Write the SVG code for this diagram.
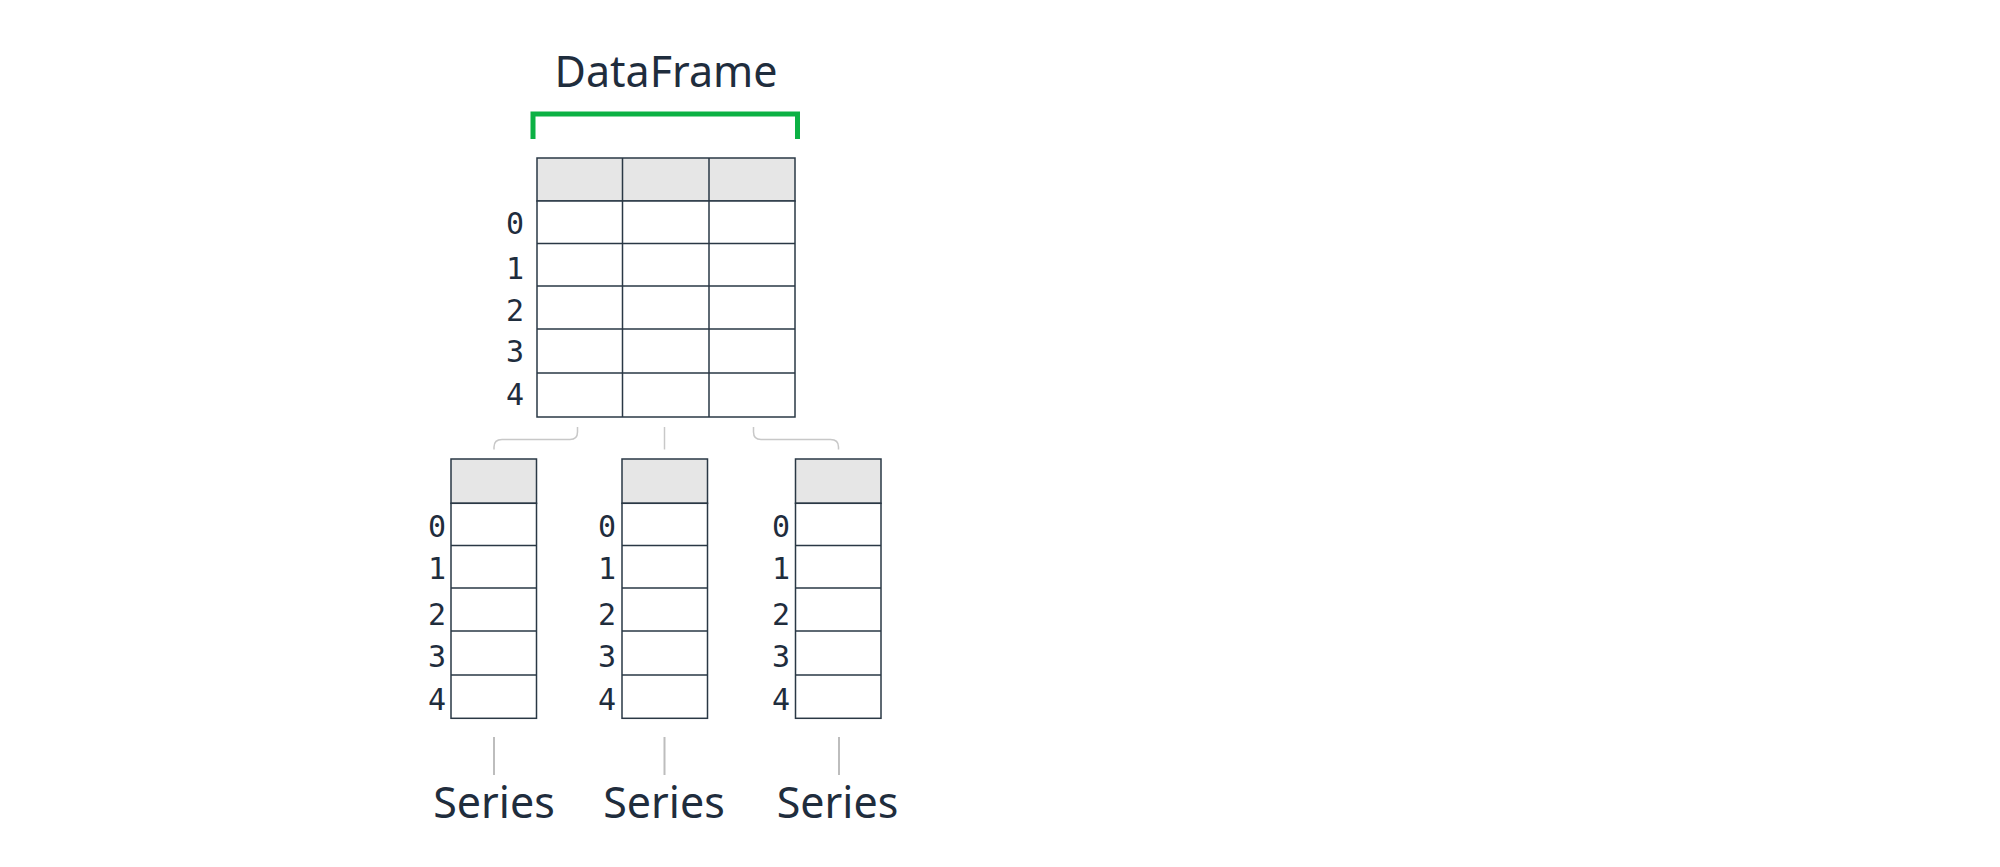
<svg xmlns="http://www.w3.org/2000/svg" width="2000" height="867" viewBox="0 0 2000 867">
<style>
.title{font-family:"Noto Sans","Open Sans",sans-serif;font-size:43px;fill:#1f2d3d;text-anchor:middle}
.idx{font-family:"DejaVu Sans Mono","Liberation Mono",monospace;font-size:30px;fill:#1f2d3d;text-anchor:end}
.cell{fill:#ffffff;stroke:#2a3845;stroke-width:1.5}
.head{fill:#e6e6e6;stroke:#2a3845;stroke-width:1.5}
.conn{fill:none;stroke:#c8c8c8;stroke-width:1.5}
.tick{fill:none;stroke:#bdbdbd;stroke-width:2}
</style>
<rect width="2000" height="867" fill="#ffffff"/>
<g id="dataframe">
<text class="title" x="666" y="87">DataFrame</text>
<path d="M533 139 V114 H797.5 V139" fill="none" stroke="#0cb144" stroke-width="5"/>
<rect class="head" x="537" y="158" width="258" height="43"/>
<rect class="cell" x="537" y="201" width="258" height="216"/>
<path d="M537 243.5 H795 M537 286 H795 M537 329 H795 M537 373 H795 M622.5 158 V417 M709 158 V417" fill="none" stroke="#2a3845" stroke-width="1.5"/>
<text class="idx" x="524" y="234">0</text>
<text class="idx" x="524" y="279">1</text>
<text class="idx" x="524" y="321">2</text>
<text class="idx" x="524" y="362">3</text>
<text class="idx" x="524" y="405">4</text>
</g>
<g id="connectors">
<path class="conn" d="M577.5 427 V432 Q577.5 439.5 570 439.5 H502 Q494 439.5 494 447 V449.5"/>
<path class="conn" d="M664.5 427 V449.5"/>
<path class="conn" d="M753.5 427 V432 Q753.5 439.5 761 439.5 H830.5 Q838.5 439.5 838.5 447 V449.5"/>
<path class="tick" d="M494 737 V775 M664.5 737 V775 M839 737 V775"/>
</g>
<g id="series1">
<rect class="head" x="451" y="459" width="85.5" height="44.3"/>
<rect class="cell" x="451" y="503.3" width="85.5" height="215"/>
<path d="M451 545.5 H536.5 M451 588 H536.5 M451 631 H536.5 M451 675 H536.5" fill="none" stroke="#2a3845" stroke-width="1.5"/>
<text class="idx" x="446" y="537">0</text>
<text class="idx" x="446" y="579">1</text>
<text class="idx" x="446" y="625">2</text>
<text class="idx" x="446" y="667">3</text>
<text class="idx" x="446" y="710">4</text>
<text class="title" x="494" y="818">Series</text>
</g>
<g id="series2">
<rect class="head" x="622" y="459" width="85.5" height="44.3"/>
<rect class="cell" x="622" y="503.3" width="85.5" height="215"/>
<path d="M622 545.5 H707.5 M622 588 H707.5 M622 631 H707.5 M622 675 H707.5" fill="none" stroke="#2a3845" stroke-width="1.5"/>
<text class="idx" x="616" y="537">0</text>
<text class="idx" x="616" y="579">1</text>
<text class="idx" x="616" y="625">2</text>
<text class="idx" x="616" y="667">3</text>
<text class="idx" x="616" y="710">4</text>
<text class="title" x="664" y="818">Series</text>
</g>
<g id="series3">
<rect class="head" x="795.5" y="459" width="85.5" height="44.3"/>
<rect class="cell" x="795.5" y="503.3" width="85.5" height="215"/>
<path d="M795.5 545.5 H881 M795.5 588 H881 M795.5 631 H881 M795.5 675 H881" fill="none" stroke="#2a3845" stroke-width="1.5"/>
<text class="idx" x="790" y="537">0</text>
<text class="idx" x="790" y="579">1</text>
<text class="idx" x="790" y="625">2</text>
<text class="idx" x="790" y="667">3</text>
<text class="idx" x="790" y="710">4</text>
<text class="title" x="837.5" y="818">Series</text>
</g>
</svg>
